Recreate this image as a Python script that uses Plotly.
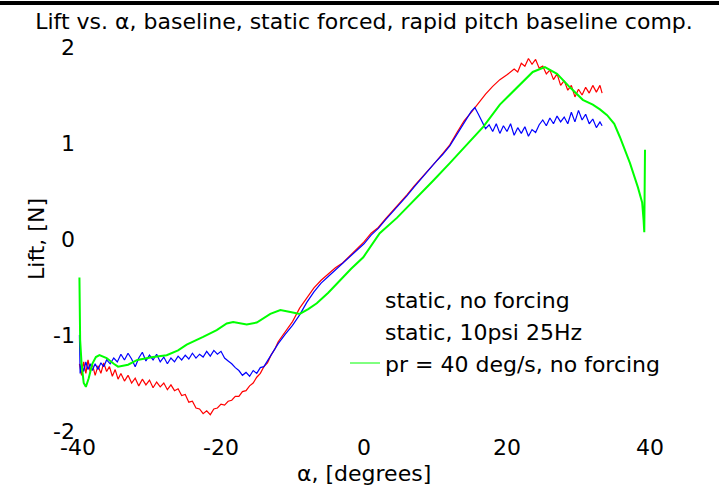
import plotly.graph_objects as go

# ---- data ----
green_alpha = [-39.8, -39.7, -39.5, -39.2, -38.9, -38.5, -38.0, -37.5, -37.0, -36.0, -35.0, -34.4,
               -33.0, -31.7, -29.5, -27.6, -26.0, -24.8, -22.5, -20.6, -19.2, -18.3, -16.4, -15.0,
               -13.1, -11.7, -10.3, -9.0, -7.8, -6.6, -5.0, -3.4, -1.8, -0.1, 2.2, 4.6, 7.4, 9.7,
               12.0, 14.4, 16.7, 19.0, 21.4, 23.6, 25.3, 27.0, 28.8, 30.6, 32.0, 33.0, 34.0, 35.0,
               35.8, 36.5, 37.2, 38.3, 38.9, 39.1, 39.2, 39.3]
green_lift = [-0.40, -1.05, -1.30, -1.50, -1.54, -1.45, -1.30, -1.23, -1.21, -1.24, -1.30, -1.33,
              -1.31, -1.26, -1.23, -1.21, -1.16, -1.10, -1.02, -0.95, -0.88, -0.865, -0.89, -0.87,
              -0.78, -0.74, -0.76, -0.78, -0.73, -0.67, -0.56, -0.43, -0.31, -0.19, 0.06, 0.22, 0.44, 0.61,
              0.79, 0.98, 1.17, 1.40, 1.58, 1.74, 1.79, 1.72, 1.58, 1.45, 1.40, 1.35, 1.29, 1.20,
              1.06, 0.93, 0.79, 0.54, 0.38, 0.20, 0.07, 0.93]

red_alpha = [-39.8, -39.5, -39.2, -38.9, -38.6, -38.3, -38.0, -37.6, -37.2, -36.8, -36.4, -36.0,
             -35.6, -35.2, -34.8, -34.4, -34.0, -33.5, -33.0, -32.5, -32.0, -31.5, -31.0, -30.5,
             -30.0, -29.5, -29.0, -28.5, -28.0, -27.5, -27.0, -26.5, -26.0, -25.5, -25.0, -24.5,
             -24.0, -23.5, -23.0, -22.5, -22.0, -21.5, -21.0, -20.5, -20.0, -19.5, -19.0, -18.5,
             -18.0, -17.5, -17.0, -16.5, -16.0, -15.5, -15.0, -14.5, -14.0, -13.5, -13.0, -12.5,
             -12.0, -11.0, -10.0, -9.0, -8.0, -7.0, -6.0, -5.0, -4.0, -3.0, -2.0, -1.0, 0.0, 1.0,
             2.0, 3.0, 4.0, 5.0, 6.0, 7.0, 8.0, 9.0, 10.0, 11.0, 12.0, 13.0, 14.0, 15.0, 16.0,
             17.0, 18.0, 19.0, 20.0, 21.0, 21.5, 22.0, 22.5, 23.0, 23.5, 24.0, 24.5, 25.0, 25.5,
             26.0, 26.5, 27.0, 27.5, 28.0, 28.5, 29.0, 29.5, 30.0, 30.5, 31.0, 31.5, 32.0, 32.5,
             33.0, 33.3]
red_lift = [-1.30, -1.42, -1.28, -1.40, -1.26, -1.38, -1.30, -1.42, -1.32, -1.40, -1.29, -1.38,
            -1.33, -1.43, -1.36, -1.46, -1.40, -1.48, -1.42, -1.50, -1.45, -1.53, -1.46, -1.52,
            -1.47, -1.55, -1.49, -1.54, -1.50, -1.57, -1.52, -1.58, -1.56, -1.63, -1.62, -1.70,
            -1.69, -1.76, -1.77, -1.82, -1.79, -1.83, -1.77, -1.76, -1.72, -1.73, -1.69, -1.68,
            -1.64, -1.64, -1.59, -1.58, -1.53, -1.50, -1.44, -1.40, -1.33, -1.29, -1.21, -1.15,
            -1.07, -0.97, -0.86, -0.72, -0.61, -0.51, -0.43, -0.36, -0.30, -0.25, -0.18, -0.10, -0.03, 0.06,
            0.12, 0.21, 0.29, 0.38, 0.46, 0.55, 0.63, 0.72, 0.80, 0.89, 0.98, 1.11, 1.23, 1.32, 1.42,
            1.51, 1.59, 1.66, 1.71, 1.77, 1.74, 1.83, 1.80, 1.88, 1.82, 1.87, 1.78, 1.80, 1.72,
            1.76, 1.66, 1.72, 1.60, 1.65, 1.55, 1.60, 1.48, 1.56, 1.50, 1.58, 1.52, 1.60, 1.53,
            1.60, 1.52]

blue_alpha = [-39.8, -39.7, -39.5, -39.2, -38.9, -38.6, -38.3, -38.0, -37.6, -37.2, -36.8, -36.4,
              -36.0, -35.5, -35.0, -34.5, -34.0, -33.5, -33.0, -32.5, -32.0, -31.5, -31.0, -30.5,
              -30.0, -29.5, -29.0, -28.5, -28.0, -27.5, -27.0, -26.5, -26.0, -25.5, -25.0, -24.5,
              -24.0, -23.5, -23.0, -22.5, -22.0, -21.5, -21.0, -20.5, -20.0, -19.5, -19.0, -18.5,
              -18.0, -17.5, -17.0, -16.5, -16.0, -15.5, -15.0, -14.5, -14.0, -13.5, -13.0, -12.5,
              -12.0, -11.0, -10.0, -9.0, -8.0, -7.0, -6.0, -5.0, -4.0, -3.0, -2.0, -1.0, 0.0, 1.0,
              2.0, 3.0, 4.0, 5.0, 6.0, 7.0, 8.0, 9.0, 10.0, 11.0, 12.0, 13.0, 14.0, 14.5, 15.0,
              15.5, 16.0, 16.5, 17.0, 17.5, 18.0, 18.5, 19.0, 19.5, 20.0, 20.5, 21.0, 21.5, 22.0,
              22.5, 23.0, 23.5, 24.0, 24.5, 25.0, 25.5, 26.0, 26.5, 27.0, 27.5, 28.0, 28.5, 29.0,
              29.5, 30.0, 30.5, 31.0, 31.5, 32.0, 32.5, 33.0, 33.3]
blue_lift = [-1.00, -1.40, -1.30, -1.38, -1.28, -1.36, -1.30, -1.37, -1.30, -1.36, -1.29, -1.33,
             -1.26, -1.30, -1.24, -1.28, -1.20, -1.26, -1.19, -1.25, -1.33, -1.24, -1.18, -1.27,
             -1.21, -1.26, -1.20, -1.28, -1.23, -1.30, -1.24, -1.28, -1.22, -1.26, -1.21, -1.25,
             -1.19, -1.24, -1.20, -1.23, -1.17, -1.22, -1.16, -1.20, -1.17, -1.24, -1.27, -1.30,
             -1.34, -1.37, -1.42, -1.39, -1.43, -1.37, -1.40, -1.34, -1.33, -1.27, -1.22, -1.16,
             -1.09, -0.99, -0.90, -0.79, -0.66, -0.55, -0.46, -0.39, -0.32, -0.26, -0.19, -0.12, -0.05, 0.04,
             0.11, 0.20, 0.28, 0.37, 0.45, 0.54, 0.63, 0.71, 0.80, 0.88, 0.97, 1.09, 1.22, 1.27, 1.33,
             1.37, 1.30, 1.22, 1.15, 1.19, 1.12, 1.20, 1.10, 1.18, 1.12, 1.20, 1.08, 1.16, 1.10,
             1.17, 1.07, 1.14, 1.11, 1.19, 1.24, 1.18, 1.26, 1.20, 1.28, 1.22, 1.27, 1.20, 1.32,
             1.22, 1.34, 1.24, 1.30, 1.20, 1.25, 1.16, 1.22, 1.18]

x_ticks = [-40, -20, 0, 20, 40]
x_ticktext = ["-40", "-20", "0", "20", "40"]
y_ticks = [-2, -1, 0, 1, 2]
y_ticktext = ["-2", "-1", "0", "1", "2"]

names = ["static, no forcing", "static, 10psi 25Hz", "pr = 40 deg/s, no forcing"]

FONT = "DejaVu Sans"

fig = go.Figure()
fig.add_trace(go.Scatter(x=red_alpha, y=red_lift, mode="lines",
                         line=dict(color="#ff0000", width=1.2), showlegend=False))
fig.add_trace(go.Scatter(x=blue_alpha, y=blue_lift, mode="lines",
                         line=dict(color="#0000ff", width=1.2), showlegend=False))
fig.add_trace(go.Scatter(x=green_alpha, y=green_lift, mode="lines",
                         line=dict(color="#00ff00", width=2), showlegend=False))
# legend entries (the static series show no visible symbol in the original legend)
fig.add_trace(go.Scatter(x=[None], y=[None], mode="markers", name=names[0],
                         marker=dict(color="white", size=1)))
fig.add_trace(go.Scatter(x=[None], y=[None], mode="markers", name=names[1],
                         marker=dict(color="white", size=1)))
fig.add_trace(go.Scatter(x=[None], y=[None], mode="lines", name=names[2],
                         line=dict(color="#00ff00", width=1)))

fig.update_layout(
    width=719, height=486,
    margin=dict(l=78, r=69, t=47, b=55),
    paper_bgcolor="white", plot_bgcolor="white",
    font=dict(family=FONT, size=22, color="black"),
    title=dict(text="Lift vs. α, baseline, static forced, rapid pitch baseline comp.",
               x=0.5, xref="paper", xanchor="center",
               y=1 - 21 / 486, yref="container", yanchor="middle",
               font=dict(family=FONT, size=22, color="black")),
    xaxis=dict(range=[-40, 40], tickvals=x_ticks, ticktext=x_ticktext, showgrid=False,
               zeroline=False, showline=False, ticks="", ticklabelstandoff=1,
               automargin=False),
    yaxis=dict(range=[-2, 2], tickvals=y_ticks, ticktext=y_ticktext, showgrid=False,
               zeroline=False, showline=False, ticks="", ticklabelstandoff=2,
               automargin=False,
               title=dict(text="Lift, [N]", standoff=2,
                          font=dict(family=FONT, size=22, color="black"))),
    legend=dict(x=(345 - 78) / 572, y=(431 - 279) / 384, xanchor="left", yanchor="top",
                bgcolor="rgba(0,0,0,0)", font=dict(family=FONT, size=22, color="black"),
                itemwidth=30),
    annotations=[dict(text="α, [degrees]", xref="paper", yref="paper", x=0.5,
                      y=(431 - 473) / 384, xanchor="center", yanchor="middle",
                      showarrow=False, font=dict(family=FONT, size=22, color="black"))],
    shapes=[dict(type="line", xref="paper", yref="paper", x0=-78 / 572, x1=(719 - 78) / 572,
                 y0=(431 - 3) / 384, y1=(431 - 3) / 384, line=dict(color="black", width=4))],
)

fig.write_html("out.html")
